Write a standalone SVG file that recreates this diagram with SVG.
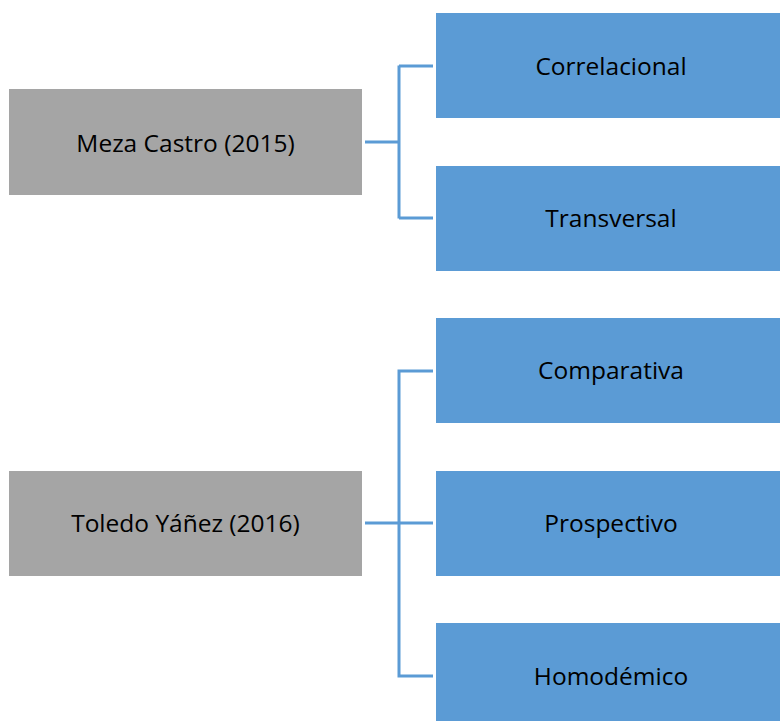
<svg xmlns="http://www.w3.org/2000/svg" width="780" height="721" viewBox="0 0 780 721">
<style>
.g{fill:#A5A5A5}
.b{fill:#5B9BD5}
.t{font-family:"Open Sans","Liberation Sans",sans-serif;font-size:24.5px;fill:#000;text-anchor:middle}
.c{fill:none;stroke:#5B9BD5;stroke-width:3}
</style>
<rect width="780" height="721" fill="#fff"/>
<g id="connectors">
<path class="c" d="M365 142H399M399 65.5V218.5M399 66H433M399 218H433"/>
<path class="c" d="M365 523H433M399 369.5V677.5M399 371H433M399 676H433"/>
</g>
<g id="meza"><rect class="g" x="9" y="89" width="353" height="106"/><text class="t" x="185.5" y="151.5">Meza Castro (2015)</text></g>
<g id="correlacional"><rect class="b" x="436" y="13" width="344" height="105"/><text class="t" x="611" y="74.5">Correlacional</text></g>
<g id="transversal"><rect class="b" x="436" y="166" width="344" height="105"/><text class="t" x="611" y="226.5">Transversal</text></g>
<g id="toledo"><rect class="g" x="9" y="471" width="353" height="105"/><text class="t" x="185.5" y="531.5">Toledo Yáñez (2016)</text></g>
<g id="comparativa"><rect class="b" x="436" y="318" width="344" height="105"/><text class="t" x="611" y="378.5">Comparativa</text></g>
<g id="prospectivo"><rect class="b" x="436" y="471" width="344" height="105"/><text class="t" x="611" y="531.5">Prospectivo</text></g>
<g id="homodemico"><rect class="b" x="436" y="623" width="344" height="105"/><text class="t" x="611" y="684.5">Homodémico</text></g>
</svg>
